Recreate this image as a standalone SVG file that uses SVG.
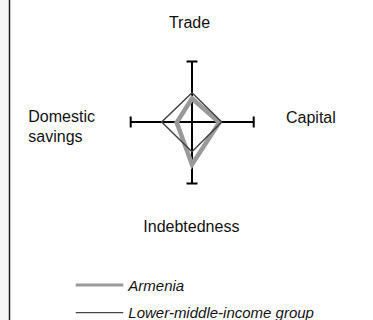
<svg xmlns="http://www.w3.org/2000/svg" width="373" height="320" viewBox="0 0 373 320">
<style>
.lbl{font-family:"Liberation Sans",Arial,sans-serif;font-size:16px;fill:#111}
.leg{font-family:"Liberation Sans",Arial,sans-serif;font-size:15px;font-style:italic;fill:#111}
.axis{stroke:#000;stroke-width:2;fill:none}
.arm{stroke:#999;stroke-width:4.5;fill:none;stroke-linejoin:miter}
.lmi{stroke:#444;stroke-width:1.5;fill:none}
</style>
<rect x="0" y="0" width="373" height="320" fill="#fff"/>
<rect x="0" y="0" width="9" height="320" fill="#f7f7f7"/>
<line x1="9.5" y1="0" x2="9.5" y2="320" stroke="#222" stroke-width="1.5"/>
<g id="axes">
<line class="axis" x1="192" y1="61.5" x2="192" y2="183.5"/>
<line class="axis" x1="130.7" y1="122" x2="253.7" y2="122"/>
<line class="axis" x1="186.5" y1="61.5" x2="197.5" y2="61.5"/>
<line class="axis" x1="186.5" y1="183.5" x2="197.5" y2="183.5"/>
<line class="axis" x1="130.7" y1="116.5" x2="130.7" y2="127.5"/>
<line class="axis" x1="253.7" y1="116.5" x2="253.7" y2="127.5"/>
</g>
<g id="series">
<polygon id="armenia" class="arm" points="192,98.5 219.3,122.5 192,164.5 176.7,122.5"/>
<polygon id="lmi" class="lmi" points="192,92.7 221.7,122 192,151.7 161.7,122"/>
</g>
<g id="labels">
<text class="lbl" x="189.5" y="27.7" text-anchor="middle">Trade</text>
<text class="lbl" x="286" y="122.7">Capital</text>
<text class="lbl" x="28.3" y="121.7">Domestic</text>
<text class="lbl" x="28.3" y="141.7">savings</text>
<text class="lbl" x="143.3" y="231.7">Indebtedness</text>
</g>
<g id="legend">
<line x1="75.7" y1="285" x2="123.3" y2="285" stroke="#999" stroke-width="3"/>
<text class="leg" x="128.3" y="290.5">Armenia</text>
<line x1="75.7" y1="312.7" x2="123.3" y2="312.7" stroke="#444" stroke-width="1.2"/>
<text class="leg" x="128.3" y="318">Lower-middle-income group</text>
</g>
</svg>
